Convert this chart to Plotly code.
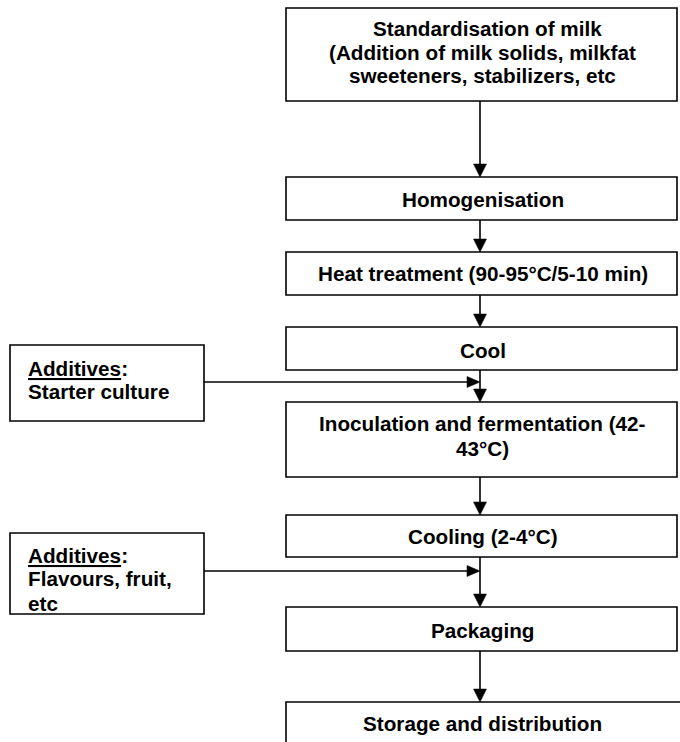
import plotly.graph_objects as go

# ---- data ----
step_lines = [
    ["Standardisation of milk", "(Addition of milk solids, milkfat", "sweeteners, stabilizers, etc"],
    ["Homogenisation"],
    ["Heat treatment (90-95°C/5-10 min)"],
    ["Cool"],
    ["Inoculation and fermentation (42-", "43°C)"],
    ["Cooling (2-4°C)"],
    ["Packaging"],
    ["Storage and distribution"],
]
step_top = [8, 177, 252, 327, 402, 515, 607, 702]
step_bottom = [101, 220, 295, 370, 477, 557, 651, 760]
step_text_y = [[28, 52, 75], [199], [273], [350], [423, 448], [536], [630], [723]]
step_text_dx = [[5, 0, 0], [0], [0], [0], [0, 0], [0], [0], [0]]

additive_lines = [
    ["<u>Additives</u>:", "Starter culture"],
    ["<u>Additives</u>:", "Flavours, fruit,", "etc"],
]
additive_top = [345, 533]
additive_bottom = [421, 614]
additive_text_y = [[368, 391], [555, 578, 603]]
additive_arrow_y = [382, 571]

# ---- layout constants ----
W, H = 680, 742
MX0, MX1 = 286, 677
AX0, AX1 = 10, 204
CX = 480
FONT = dict(family="Liberation Sans, Arial, sans-serif", size=20.7, color="black")
LW = 1.6

fig = go.Figure()
shapes = []
annotations = []

for i, lines in enumerate(step_lines):
    x1 = MX1 if i < len(step_lines) - 1 else 700
    shapes.append(dict(type="rect", x0=MX0, x1=x1, y0=step_top[i], y1=step_bottom[i],
                       line=dict(color="black", width=LW), fillcolor="white", layer="above"))
    for t, y, dx in zip(lines, step_text_y[i], step_text_dx[i]):
        annotations.append(dict(x=(MX0 + MX1) / 2 + 1 + dx, y=y, text="<b>" + t + "</b>", showarrow=False,
                                xanchor="center", yanchor="middle", font=FONT))

# vertical arrows
def vline_arrow(y0, y1):
    shapes.append(dict(type="line", x0=CX, x1=CX, y0=y0, y1=y1 - 10,
                       line=dict(color="black", width=LW), layer="above"))
    shapes.append(dict(type="path", path=f"M {CX-6.5},{y1-13} L {CX+6.5},{y1-13} L {CX},{y1} Z",
                       fillcolor="black", line=dict(color="black", width=0.5), layer="above"))

for i in range(len(step_lines) - 1):
    vline_arrow(step_bottom[i], step_top[i + 1])

for i, lines in enumerate(additive_lines):
    shapes.append(dict(type="rect", x0=AX0, x1=AX1, y0=additive_top[i], y1=additive_bottom[i],
                       line=dict(color="black", width=LW), fillcolor="white", layer="above"))
    for t, y in zip(lines, additive_text_y[i]):
        annotations.append(dict(x=26, y=y, text="<b>" + t + "</b>", showarrow=False,
                                xanchor="left", yanchor="middle", font=FONT))
    ya = additive_arrow_y[i]
    shapes.append(dict(type="line", x0=AX1, x1=CX - 10, y0=ya, y1=ya,
                       line=dict(color="black", width=LW), layer="above"))
    shapes.append(dict(type="path", path=f"M {CX-13},{ya-5.5} L {CX-13},{ya+5.5} L {CX},{ya} Z",
                       fillcolor="black", line=dict(color="black", width=0.5), layer="above"))

fig.update_layout(
    width=W, height=H, margin=dict(l=0, r=0, t=0, b=0),
    paper_bgcolor="white", plot_bgcolor="white",
    xaxis=dict(range=[0, W], visible=False, fixedrange=True),
    yaxis=dict(range=[H, 0], visible=False, fixedrange=True),
    shapes=shapes, annotations=annotations, showlegend=False,
)
fig.write_html("out.html", config={"displayModeBar": False},
               post_script="document.body.style.margin='0';document.body.style.padding='0';")
